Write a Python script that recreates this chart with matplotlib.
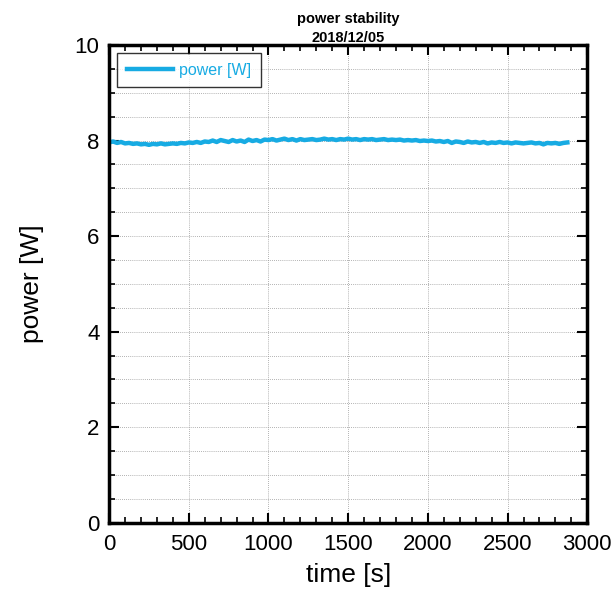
import matplotlib
matplotlib.use('Agg')
from matplotlib import pyplot as plt
from matplotlib.ticker import MultipleLocator
import numpy as np

plt.rcParams['font.family'] = ['Liberation Sans', 'DejaVu Sans']

# tiempo [s] cada 25 s
time_s = np.arange(0, 2900, 25)
power_w = [7.96, 7.98, 7.95, 7.97, 7.94, 7.95, 7.93, 7.94, 7.92, 7.93,
           7.91, 7.93, 7.92, 7.94, 7.92, 7.93, 7.94, 7.93, 7.95, 7.94,
           7.96, 7.95, 7.97, 7.95, 7.98, 7.97, 8.00, 7.97, 8.01, 7.99,
           7.97, 8.01, 7.98, 8.00, 7.97, 8.02, 7.99, 8.01, 7.98, 8.02,
           8.01, 8.03, 8.00, 8.02, 8.04, 8.01, 8.03, 8.00, 8.03, 8.01,
           8.02, 8.03, 8.01, 8.02, 8.04, 8.02, 8.03, 8.01, 8.03, 8.02,
           8.04, 8.02, 8.03, 8.01, 8.03, 8.02, 8.03, 8.01, 8.02, 8.03,
           8.01, 8.02, 8.01, 8.02, 8.00, 8.01, 8.00, 8.01, 7.99, 8.00,
           7.99, 8.00, 7.98, 7.99, 7.97, 7.99, 7.95, 7.98, 7.97, 7.95,
           7.98, 7.96, 7.97, 7.95, 7.97, 7.94, 7.96, 7.95, 7.97, 7.95,
           7.96, 7.94, 7.96, 7.95, 7.94, 7.95, 7.96, 7.94, 7.95, 7.92,
           7.95, 7.94, 7.95, 7.93, 7.95, 7.96]
power_w = power_w[:len(time_s)]

color = '#17ABE3'

fig = plt.figure(figsize=(6.13, 5.92), dpi=100)
graph = fig.add_axes([0.178, 0.117, 0.780, 0.807])
graph.plot(time_s, power_w, color=color, lw=3.2, label='power [W]')

graph.set_xlim(0, 3000)
graph.set_ylim(0, 10)
graph.xaxis.set_major_locator(MultipleLocator(500))
graph.xaxis.set_minor_locator(MultipleLocator(100))
graph.yaxis.set_major_locator(MultipleLocator(2))
graph.yaxis.set_minor_locator(MultipleLocator(0.5))
graph.grid(True, which='major', color='#999999', ls=(0, (1, 1.5)), lw=0.6)
graph.grid(True, which='minor', axis='y', color='#999999', ls=(0, (1, 1.5)), lw=0.6)
graph.tick_params(which='both', direction='in', top=True, right=True, labelsize=16)
graph.tick_params(axis='x', pad=8)
graph.tick_params(axis='y', pad=7)
graph.tick_params(which='major', length=7, width=1.5)
graph.tick_params(which='minor', length=4, width=1.2)
for s in graph.spines.values():
    s.set_linewidth(2.5)

graph.set_xlabel('time [s]', fontsize=19, labelpad=6)
graph.set_ylabel('power [W]', fontsize=19, labelpad=22)
graph.set_title('power stability\n2018/12/05', fontsize=10.5, fontweight='bold', pad=2, linespacing=1.45)

leg = graph.legend(loc='upper left', fancybox=False, edgecolor='black', fontsize=11.5,
                   handlelength=2.9, handletextpad=0.4, borderpad=0.6, labelcolor=color)
leg.get_frame().set_linewidth(1.0)

fig.savefig('out.png', dpi=100)
